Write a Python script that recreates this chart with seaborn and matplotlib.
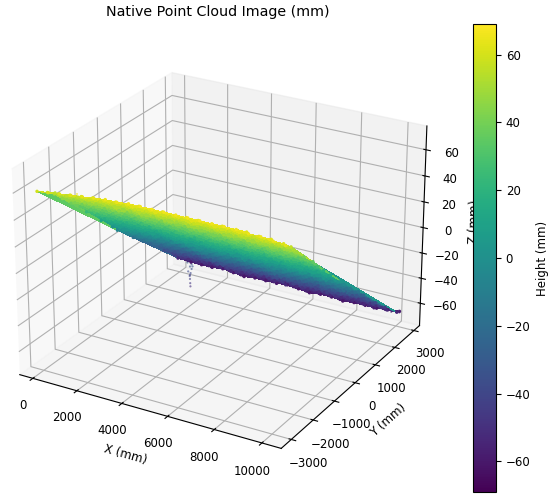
import matplotlib
matplotlib.use('Agg')
import matplotlib.pyplot as plt
import numpy as np
import pandas as pd
import seaborn as sns

n = float('nan')

# In mm. One row of z_rows per y station, nan where the cloud has no points
x_stations = [0, 500, 1000, 1500, 2000, 2500, 3000, 3500, 4000, 4500, 5000,
              5500, 6000, 6500, 7000, 7500, 8000, 8500, 9000, 9500, 10000, 10500]
y_stations = [-3030, -2845, -2660, -2470, -2285, -2100, -1915, -1730, -1540, -1355, -1170,
              -985, -800, -610, -425, -240, -55, 135, 320, 505, 690,
              875, 1060, 1250, 1435, 1620, 1805, 1990, 2180, 2365, 2555]
x_shift = [0, 250, -120, 130, -230, 80, 240, -60, 170, -200, 50,
           220, -150, 110, -40, 190, -220, 20, 230, -90, 150,
           -170, 70, 210, -130, 100, -20, 180, -240, 40, 0]
z_rows = [
    [59, 60, 61, 62, 63, 64, 65, 65, 66, 66, 66, 66, 66, 66, 66, 66, 66, 66, 65, 65, 64, 63],
    [57, 58, 59, 60, 61, 61, 62, 62, 63, 62, 63, 62, 63, 63, 62, 63, 62, 63, 62, 62, 61, n],
    [n, 55, 55, 56, 56, 57, 57, 58, 57, 58, 57, 58, 58, 57, 58, 57, 58, 57, 58, 57, 57, 57],
    [51, 51, 52, 52, 53, 53, 54, 53, 54, 53, 54, 54, 53, 54, 53, 54, 53, 54, 53, 53, 53, n],
    [n, 46, 47, 47, 48, 48, 47, 49, 48, 49, 48, 49, 48, 49, 49, 48, 49, 48, 48, 49, 48, 48],
    [n, 42, 43, 43, 44, 44, 45, 44, 45, 44, 44, 45, 44, 45, 45, 44, 45, 44, 44, 45, 44, n],
    [38, 39, 39, 40, 39, 41, 40, 40, 41, 40, 41, 40, 40, 41, 40, 41, 40, 40, 41, 40, 40, n],
    [n, 34, 34, 35, 35, 36, 35, 35, 36, 35, 36, 35, 36, 35, 35, 36, 35, 36, 35, 35, 35, 35],
    [n, 30, 30, 31, 31, 32, 31, 31, 32, 31, 31, 32, 31, 32, 31, 31, 32, 31, 31, 32, 31, n],
    [n, 25, 25, 26, 26, 27, 26, 26, 27, 26, 26, 27, 26, 27, 26, 26, 27, 26, 26, 27, 26, 26],
    [n, 21, 21, 22, 22, 23, 22, 22, 23, 22, 22, 23, 22, 22, 23, 22, 22, 23, 22, 23, 22, n],
    [n, 17, 17, 18, 18, 19, 18, 18, 18, 19, 18, 18, 19, 18, 18, 19, 18, 18, 19, 18, 18, n],
    [n, 12, 12, 13, 13, 13, 14, 13, 13, 14, 13, 13, 13, 14, 13, 13, 14, 13, 13, 14, 13, 13],
    [n, 8, 9, 9, 9, 10, 9, 9, 9, 10, 9, 9, 10, 9, 9, 9, 10, 9, 9, 10, 9, n],
    [n, 3, 3, 4, 4, 4, 5, 4, 4, 5, 4, 4, 4, 5, 4, 4, 5, 4, 4, 4, 4, 4],
    [n, -1, -1, 0, 0, 1, 0, 0, 0, 1, 0, 0, -1, 0, 0, 1, 0, 0, 0, -1, 0, n],
    [n, -5, -5, -4, -4, -3, -4, -4, -5, -4, -4, -3, -4, -4, -4, -5, -4, -4, -3, -4, -4, -4],
    [n, -9, -9, -8, -8, -7, -8, -8, -9, -8, -8, -8, -7, -8, -8, -9, -8, -8, -8, -7, -8, n],
    [n, -13, -13, -12, -12, -11, -12, -13, -12, -12, -11, -12, -12, -13, -12, -12, -12, -11, -12, -12, -12, n],
    [n, -17, -17, -16, -16, -15, -16, -17, -16, -16, -15, -16, -16, -17, -16, -16, -16, -15, -16, -17, -16, -16],
    [n, -21, -21, -20, -20, -19, -20, -21, -20, -20, -20, -19, -20, -21, -20, -20, -19, -20, -20, -21, -20, n],
    [n, n, -25, -24, -24, -23, -24, -25, -24, -24, -23, -24, -24, -25, -24, -24, -24, -23, -24, -25, -24, -24],
    [n, n, -29, -28, -28, -27, -28, -29, -28, -28, -28, -27, -28, -29, -28, -28, -27, -28, -28, -29, -28, n],
    [n, n, -33, -32, -32, -31, -32, -33, -32, -32, -32, -31, -32, -33, -32, -32, -33, -32, -31, -32, -33, n],
    [n, n, -37, -36, -36, -35, -36, -37, -36, -36, -35, -36, -37, -36, -36, -36, -35, -36, -37, -36, -36, -37],
    [n, n, -41, -40, -40, -39, -40, -41, -40, -40, -40, -39, -40, -41, -40, -40, -41, -40, -39, -40, -41, n],
    [n, n, -45, -44, -44, -43, -44, -45, -44, -44, -43, -44, -45, -44, -44, -44, -45, -44, -43, -44, -45, -45],
    [n, n, -49, -48, -48, -47, -48, -49, -48, -48, -48, -47, -48, -49, -48, -48, -49, -48, -47, -48, -49, n],
    [n, n, -53, -52, -52, -51, -52, -53, -52, -52, -51, -52, -53, -52, -52, -52, -53, -52, -52, -53, -52, -53],
    [n, n, -56, -56, -56, -55, -56, -57, -56, -56, -56, -55, -56, -57, -56, -56, -57, -56, -56, -57, -56, -56],
    [n, n, -60, -60, -60, -59, -60, -61, -60, -60, -60, -59, -60, -61, -60, -60, -61, -60, -60, -60, -59, -58],
]
# loose points along the two long edges of the cloud
fringe_x = [700, 1900, 2800, 3700, 4600, 5300, 6200, 7100, 7900, 8800, 9700,
            2100, 3000, 3900, 4800, 5600, 6500, 7300, 8200, 9100, 10000, 10400]
fringe_y = [-3190, -3143, -3227, -3171, -3208, -3152, -3236, -3180, -3143, -3199, -3161,
            2723, 2676, 2760, 2695, 2732, 2667, 2751, 2704, 2686, 2732, 2676]
fringe_z = [63, 66, 67, 67, 68, 67, 68, 67, 67, 68, 66,
            -62, -61, -63, -62, -63, -61, -63, -62, -61, -63, -61]
pit_x = [2350, 2600, 2850, 3050, 3000, 2450, 2680, 2820, 2980, 2500, 2720, 2900, 2560, 2780,
         2920, 2620, 2740, 2860, 2660, 2790, 2650, 2770, 2700, 2750, 2710, 2680, 2740, 2720]
pit_y = [805, 740, 861, 777, 842, 889, 814, 730, 870, 767, 898, 795, 851, 749,
         823, 786, 833, 777, 861, 805, 786, 823, 814, 795, 805, 823, 786, 814]
pit_z = [-11, -13, -14, -12, -16, -18, -20, -17, -21, -24, -22, -26, -28, -25,
         -30, -31, -27, -33, -35, -32, -38, -36, -41, -39, -44, -42, -47, -50]
z_ticks = [-60, -40, -20, 0, 20, 40, 60]
cbar_ticks = [-60, -40, -20, 0, 20, 40, 60]

z_grid = np.array(z_rows)
yy = np.repeat(y_stations, len(x_stations))
xx = np.add.outer(x_shift, x_stations).ravel()
df = pd.DataFrame({'x': xx, 'y': yy, 'z': z_grid.ravel()}).dropna()
cmap = sns.color_palette('viridis', as_cmap=True)

fig = plt.figure(figsize=(5.5, 4.98), dpi=100)
ax = fig.add_axes([-0.03, 0.02, 0.85, 0.93], projection='3d')
ax.view_init(elev=25, azim=-60)

# surface under the points fills the gaps a dense cloud would not show
ax.plot_trisurf(df['x'], df['y'], df['z'], cmap=cmap, vmin=-69, vmax=69,
                linewidth=0, antialiased=False, shade=False)
sc = ax.scatter(df['x'], df['y'], df['z'], c=df['z'], cmap=cmap, vmin=-69, vmax=69,
                s=6, linewidths=0, depthshade=False)
ax.scatter(fringe_x, fringe_y, fringe_z, c=fringe_z, cmap=cmap, vmin=-69, vmax=69,
           s=2, linewidths=0, alpha=0.7, depthshade=False)
ax.scatter(pit_x, pit_y, pit_z, c=pit_z, cmap=cmap, vmin=-69, vmax=69,
           s=2.5, linewidths=0, alpha=0.6, depthshade=False)

ax.set_xlim(-600, 10800)
ax.set_ylim(-3450, 3300)
ax.set_zlim(-78, 78)
ax.set_yticks([-3000, -2000, -1000, 0, 1000, 2000, 3000])
ax.set_zticks(z_ticks)
ax.tick_params(labelsize=8.5, pad=3)
ax.tick_params(axis='y', pad=3)
ax.set_xlabel('X (mm)', fontsize=8.5, labelpad=2)
ax.set_ylabel('Y (mm)', fontsize=8.5, labelpad=2)
ax.set_zlabel('Z (mm)', fontsize=8.5, labelpad=2)
fig.text(0.396, 0.975, 'Native Point Cloud Image (mm)', fontsize=10.25, ha='center', va='center')

cax = fig.add_axes([473 / 550, 1 - 492 / 498, 23 / 550, 468 / 498])
cbar = fig.colorbar(sc, cax=cax, ticks=cbar_ticks)
cbar.ax.tick_params(labelsize=8.5)
cbar.set_label('Height (mm)', fontsize=8.5)

fig.savefig('out.png', dpi=100)
